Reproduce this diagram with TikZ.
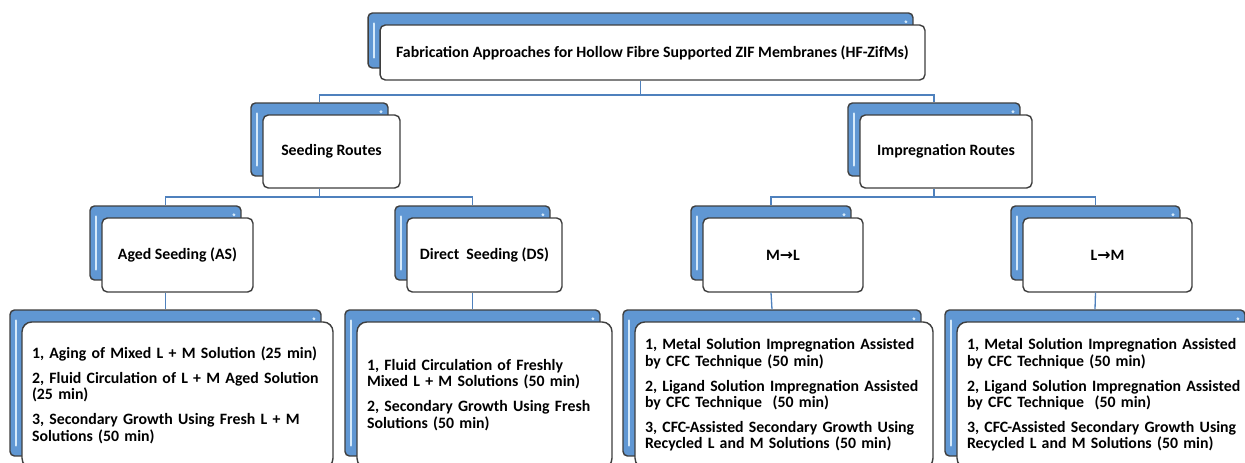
\documentclass[tikz,border=0pt]{standalone}
\usepackage{fontspec}
\setmainfont{Carlito}
\newfontfamily\arrowfont{DejaVu Sans}
\definecolor{boxblue}{RGB}{96,151,211}
\definecolor{boxedge}{RGB}{62,62,62}
\definecolor{linkblue}{RGB}{79,129,189}
\definecolor{hilite}{RGB}{214,234,250}

\begin{document}
\begin{tikzpicture}[x=0.02cm, y=-0.02cm,
		backbox/.style={rectangle, draw=boxedge, fill=boxblue, line width=0.8pt, rounded corners=2.5pt, inner sep=0pt,
			path picture={
				\draw[hilite, line width=1.4pt, line cap=round] ([xshift=3.5pt,yshift=-6pt]path picture bounding box.north west) -- ([xshift=3.5pt,yshift=6pt]path picture bounding box.south west);
				\fill[hilite] ([xshift=-4pt,yshift=-5pt]path picture bounding box.north east) circle (0.9pt);}},
		frontbox/.style={rectangle, draw=boxedge, fill=white, line width=0.8pt, rounded corners=3pt, inner sep=0pt, font=\bfseries\fontsize{9}{10}\selectfont},
		stepbox/.style={frontbox, rounded corners=5.5pt, align=left, inner xsep=0.2cm, font=\bfseries\fontsize{9}{9.3}\selectfont},
		link/.style={draw=linkblue, line width=0.75pt}]
		
		\useasboundingbox (0,0) rectangle (1245,463);
		\clip (0,0) rectangle (1245,463);
		
		% Top level
		\node[backbox, minimum width=10.9cm, minimum height=1.1cm] (top_bk) at (640.5,40.5) {};
		\node[frontbox, minimum width=10.9cm, minimum height=1.1cm] (top) at ([shift={(12,12)}]top_bk.center) {Fabrication Approaches for Hollow Fibre Supported ZIF Membranes (HF-ZifMs)};
		
		% Routes
		\node[backbox, minimum width=2.74cm, minimum height=1.46cm] (seed_bk) at (319.5,139.5) {};
		\node[frontbox, minimum width=2.74cm, minimum height=1.46cm] (seed) at ([shift={(12,12)}]seed_bk.center) {Seeding Routes};
		\node[backbox, minimum width=3.44cm, minimum height=1.46cm] (imp_bk) at (934,139.5) {};
		\node[frontbox, minimum width=3.44cm, minimum height=1.46cm] (imp) at ([shift={(12,12)}]imp_bk.center) {Impregnation Routes};
		
		% Methods
		\node[backbox, minimum width=3.02cm, minimum height=1.48cm] (as_bk) at (165.5,243) {};
		\node[frontbox, minimum width=3.02cm, minimum height=1.48cm] (as) at ([shift={(12,12)}]as_bk.center) {Aged Seeding (AS)};
		\node[backbox, minimum width=3.1cm, minimum height=1.48cm] (ds_bk) at (472.5,243) {};
		\node[frontbox, minimum width=3.1cm, minimum height=1.48cm] (ds) at ([shift={(12,12)}]ds_bk.center) {Direct\ \ Seeding (DS)};
		\node[backbox, minimum width=3.2cm, minimum height=1.48cm] (ml_bk) at (771,243) {};
		\node[frontbox, minimum width=3.2cm, minimum height=1.48cm] (ml) at ([shift={(12,12)}]ml_bk.center) {M{\arrowfont →}L};
		\node[backbox, minimum width=3.38cm, minimum height=1.48cm] (lm_bk) at (1095.5,243) {};
		\node[frontbox, minimum width=3.38cm, minimum height=1.48cm] (lm) at ([shift={(12,12)}]lm_bk.center) {L{\arrowfont →}M};
		
		% Steps
		\node[backbox, minimum width=6.22cm, minimum height=2.92cm] (as_st_bk) at (165.5,383) {};
		\node[stepbox, text width=5.82cm, minimum height=2.92cm] (as_st) at ([shift={(12,12)}]as_st_bk.center) {1, Aging of Mixed L + M Solution (25 min)\\[5pt] 2, Fluid Circulation of L + M Aged Solution\\ (25 min)\\[5pt] 3, Secondary Growth Using Fresh L + M\\ Solutions (50 min)};
		\node[backbox, minimum width=5.1cm, minimum height=2.92cm] (ds_st_bk) at (472.5,383) {};
		\node[stepbox, text width=4.7cm, minimum height=2.92cm] (ds_st) at ([shift={(12,12)}]ds_st_bk.center) {1, Fluid Circulation of Freshly\\ Mixed L + M Solutions (50 min)\\[5pt] 2, Secondary Growth Using Fresh\\ Solutions (50 min)};
		\node[backbox, minimum width=5.96cm, minimum height=2.92cm] (ml_st_bk) at (772,383) {};
		\node[stepbox, text width=5.56cm, minimum height=2.92cm] (ml_st) at ([shift={(12,12)}]ml_st_bk.center) {1, Metal Solution Impregnation Assisted\\ by CFC Technique (50 min)\\[5pt] 2, Ligand Solution Impregnation Assisted\\ by CFC Technique\ \ (50 min)\\[5pt] 3, CFC-Assisted Secondary Growth Using\\ Recycled L and M Solutions (50 min)};
		\node[backbox, minimum width=6cm, minimum height=2.92cm] (lm_st_bk) at (1095,383) {};
		\node[stepbox, text width=5.6cm, minimum height=2.92cm] (lm_st) at ([shift={(12,12)}]lm_st_bk.center) {1, Metal Solution Impregnation Assisted\\ by CFC Technique (50 min)\\[5pt] 2, Ligand Solution Impregnation Assisted\\ by CFC Technique\ \ (50 min)\\[5pt] 3, CFC-Assisted Secondary Growth Using\\ Recycled L and M Solutions (50 min)};
		
		% Links
		\coordinate (row1) at (0,95);
		\coordinate (row2) at (0,197);
		\draw[link] (top_bk |- top.south) -- (top_bk |- row1);
		\draw[link] (seed_bk.north) |- (top_bk |- row1) -| (imp_bk.north);
		\draw[link] (seed_bk |- seed.south) -- (seed_bk |- row2);
		\draw[link] (as_bk.north) |- (seed_bk |- row2) -| (ds_bk.north);
		\draw[link] (imp_bk |- imp.south) -- (imp_bk |- row2);
		\draw[link] (ml_bk.north) |- (imp_bk |- row2) -| (lm_bk.north);
		\draw[link] (as_bk |- as.south) -- (as_st_bk.north);
		\draw[link] (ds_bk |- ds.south) -- (ds_st_bk.north);
		\draw[link] (ml_bk |- ml.south) -- (ml_st_bk.north);
		\draw[link] (lm_bk |- lm.south) -- (lm_st_bk.north);
		
	\end{tikzpicture}
\end{document}
